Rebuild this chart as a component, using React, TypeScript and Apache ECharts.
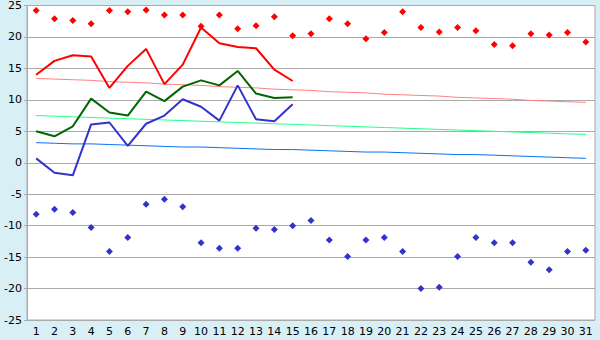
import React, { useEffect, useRef } from "react";
import * as echarts from "echarts";

const days = Array.from({ length: 31 }, (_, i) => String(i + 1));
const yTicks = [-25, -20, -15, -10, -5, 0, 5, 10, 15, 20, 25];

const recordHigh = [24.2, 22.9, 22.6, 22.1, 24.2, 24.0, 24.3, 23.5, 23.5, 21.7, 23.5, 21.3, 21.8, 23.2, 20.2, 20.5, 22.9, 22.1, 19.7, 20.7, 24.0, 21.5, 20.8, 21.5, 21.0, 18.8, 18.6, 20.5, 20.3, 20.7, 19.2];
const recordLow = [-8.2, -7.4, -7.9, -10.3, -14.1, -11.9, -6.6, -5.8, -7.0, -12.7, -13.6, -13.6, -10.4, -10.6, -10.0, -9.2, -12.3, -14.9, -12.3, -11.9, -14.1, -20.0, -19.8, -14.9, -11.9, -12.7, -12.7, -15.8, -17.0, -14.1, -13.9];

const maxTemp = [14.0, 16.2, 17.1, 16.9, 11.9, 15.4, 18.1, 12.5, 15.6, 21.5, 19.0, 18.4, 18.2, 14.8, 13.0];
const meanTemp = [5.0, 4.2, 5.8, 10.2, 8.0, 7.5, 11.3, 9.8, 12.1, 13.1, 12.3, 14.6, 11.0, 10.3, 10.4];
const minTemp = [0.7, -1.6, -2.0, 6.1, 6.4, 2.7, 6.2, 7.5, 10.1, 8.9, 6.7, 12.3, 6.9, 6.6, 9.3];

const normalMax = [13.4, 13.3, 13.2, 13.1, 12.9, 12.8, 12.7, 12.5, 12.4, 12.3, 12.1, 12.0, 11.9, 11.7, 11.6, 11.5, 11.3, 11.2, 11.1, 10.9, 10.8, 10.7, 10.6, 10.4, 10.3, 10.2, 10.1, 9.9, 9.8, 9.7, 9.6];
const normalMean = [7.5, 7.4, 7.3, 7.2, 7.1, 7.0, 6.9, 6.8, 6.7, 6.6, 6.5, 6.4, 6.3, 6.2, 6.1, 6.0, 5.9, 5.8, 5.7, 5.6, 5.5, 5.4, 5.3, 5.2, 5.1, 5.0, 4.9, 4.8, 4.7, 4.6, 4.5];
const normalMin = [3.2, 3.1, 3.0, 3.0, 2.9, 2.8, 2.7, 2.6, 2.5, 2.5, 2.4, 2.3, 2.2, 2.1, 2.1, 2.0, 1.9, 1.8, 1.7, 1.7, 1.6, 1.5, 1.4, 1.3, 1.3, 1.2, 1.1, 1.0, 0.9, 0.8, 0.7];

export default function App() {
  const ref = useRef<HTMLDivElement>(null);
  useEffect(() => {
    if (!ref.current) return;
    const chart = echarts.init(ref.current, null, { renderer: "svg" });
    const lbl = { color: "#000", fontSize: 11, fontFamily: "DejaVu Sans" };
    const line = (data: number[], color: string, width: number, z: number) => ({
      type: "line",
      data,
      symbol: "none",
      lineStyle: { color, width },
      itemStyle: { color },
      z,
    });
    const dots = (data: number[], color: string) => ({
      type: "scatter",
      data,
      symbol: "diamond",
      symbolSize: 7,
      itemStyle: { color, opacity: 1 },
      z: 5,
    });
    chart.setOption({
      animation: false,
      backgroundColor: "#d9eff6",
      grid: {
        left: 27,
        right: 5,
        top: 5,
        bottom: 20,
        show: true,
        backgroundColor: "#ffffff",
        borderColor: "#aaaaaa",
        borderWidth: 1,
      },
      xAxis: {
        type: "category",
        data: days,
        boundaryGap: true,
        axisLine: { lineStyle: { color: "#aaaaaa" } },
        axisTick: { alignWithLabel: true, interval: 0, length: 5, lineStyle: { color: "#888" } },
        axisLabel: { ...lbl, interval: 0, margin: 6 },
        splitLine: { show: false },
      },
      yAxis: {
        type: "value",
        min: yTicks[0],
        max: yTicks[yTicks.length - 1],
        interval: 5,
        axisLine: { show: true, lineStyle: { color: "#aaaaaa" } },
        axisTick: { show: true, length: 3, lineStyle: { color: "#aaaaaa" } },
        axisLabel: { ...lbl, margin: 5 },
        splitLine: { lineStyle: { color: "#aaaaaa", width: 1 } },
      },
      series: [
        line(normalMax, "#ff8080", 1, 2),
        line(normalMean, "#22ff88", 1, 2),
        line(normalMin, "#0a70f0", 1, 2),
        line(maxTemp, "#ff0000", 2, 3),
        line(meanTemp, "#006600", 2, 3),
        line(minTemp, "#3333cc", 2, 3),
        dots(recordHigh, "#ff0000"),
        dots(recordLow, "#3333cc"),
      ],
    });
    return () => chart.dispose();
  }, []);
  return (
    <div
      ref={ref}
      style={{ position: "fixed", left: 0, top: 0, width: 600, height: 340 }}
    />
  );
}
